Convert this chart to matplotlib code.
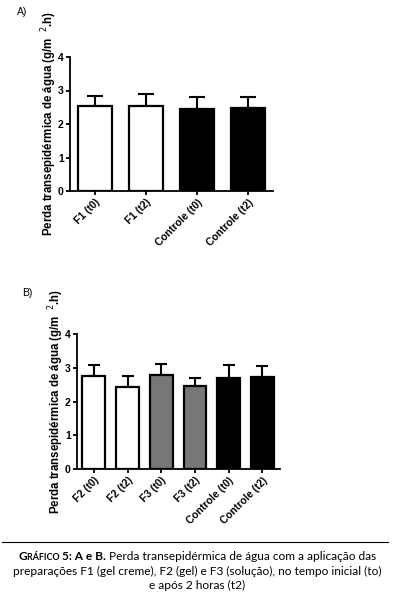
import matplotlib
matplotlib.use("Agg")
import matplotlib.pyplot as plt

# Grafico A
labels_a = ["F1 (t0)", "F1 (t2)", "Controle (t0)", "Controle (t2)"]
valores_a = [2.54, 2.54, 2.44, 2.47]
erros_a = [0.30, 0.35, 0.36, 0.33]
cores_a = ["white", "white", "black", "black"]

# Grafico B
labels_b = ["F2 (t0)", "F2 (t2)", "F3 (t0)", "F3 (t2)", "Controle (t0)", "Controle (t2)"]
valores_b = [2.76, 2.43, 2.79, 2.46, 2.71, 2.74]
erros_b = [0.31, 0.34, 0.32, 0.25, 0.37, 0.30]
cores_b = ["white", "white", "#777777", "#777777", "black", "black"]

ylabel = "Perda transepidérmica de água (g/m $^{\\ 2}$.h)"

W, H = 394, 599
fig = plt.figure(figsize=(W / 100, H / 100), dpi=100)
plt.rcParams["font.family"] = ["Liberation Sans", "DejaVu Sans"]


def grafico(rect, labels, valores, erros, cores, largura, xlim, capsize):
    ax = fig.add_axes(rect)
    x = list(range(len(labels)))
    ax.errorbar(x, valores, yerr=[[0] * len(erros), erros], fmt="none",
                ecolor="black", elinewidth=1.5, capsize=capsize, capthick=1.5, zorder=1)
    ax.bar(x, valores, width=largura, color=cores, edgecolor="black", linewidth=1.6, zorder=2)
    ax.set_xlim(*xlim)
    ax.set_ylim(0, 4)
    ax.set_yticks([0, 1, 2, 3, 4])
    ax.set_xticks(x)
    ax.set_xticklabels(labels, rotation=45, ha="right", rotation_mode="anchor",
                       fontsize=7.5, fontweight="bold")
    for t in ax.get_yticklabels():
        t.set_fontsize(7.5)
        t.set_fontweight("bold")
    ax.spines["top"].set_visible(False)
    ax.spines["right"].set_visible(False)
    ax.spines["left"].set_linewidth(1.3)
    ax.spines["bottom"].set_linewidth(1.3)
    ax.tick_params(axis="both", direction="out", length=3, width=1.3, pad=1.5)
    ax.set_ylabel(ylabel, fontsize=8.3, fontweight="bold", labelpad=-1)
    return ax


grafico([70 / W, 1 - 191 / H, 203 / W, 134 / H], labels_a, valores_a, erros_a,
        cores_a, 0.67, (-0.49, 3.49), 6)
grafico([77 / W, 1 - 469 / H, 203 / W, 135 / H], labels_b, valores_b, erros_b,
        cores_b, 0.68, (-0.5, 5.52), 4)

fig.text(17 / W, 1 - 12 / H, "A)", fontsize=7.5, va="center")
fig.text(22 / W, 1 - 293 / H, "B)", fontsize=7.5, va="center")

# Legenda do grafico
fig.add_artist(plt.Line2D([2 / W, 388 / W], [1 - 542 / H, 1 - 542 / H],
                          color="black", linewidth=0.8))
fam = ["Lato", "DejaVu Sans"]
fig.canvas.draw()
ren = fig.canvas.get_renderer()
partes = [("G", 8.6, "bold"), ("RÁFICO ", 6.4, "bold"), ("5: A e B.", 8.6, "bold"),
          (" Perda transepidérmica de água com a aplicação das", 8.6, "normal")]
objs = []
xpos = 0
for txt, fs, fw in partes:
    t = fig.text(0, 1 - 560 / H, txt, fontsize=fs, fontweight=fw, family=fam,
                 va="baseline")
    bb = t.get_window_extent(ren)
    objs.append((t, xpos))
    xpos += bb.width
inicio = (W / 2 - xpos / 2)
for t, dx in objs:
    t.set_x((inicio + dx) / W)
fig.text(W / 2 / W, 1 - 575 / H,
         "preparações F1 (gel creme), F2 (gel) e F3 (solução), no tempo inicial (to)",
         fontsize=8.6, family=fam, ha="center", va="baseline")
fig.text(W / 2 / W, 1 - 589 / H, "e após 2 horas (t2)",
         fontsize=8.6, family=fam, ha="center", va="baseline")

fig.savefig("out.png", dpi=100)
